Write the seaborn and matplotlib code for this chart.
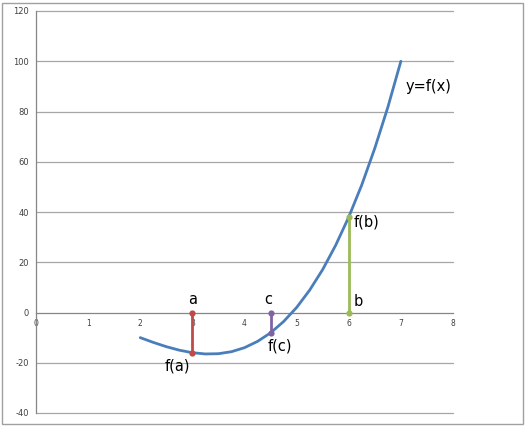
import matplotlib
matplotlib.use("Agg")
import matplotlib.pyplot as plt
import seaborn as sns
import pandas as pd
from matplotlib.patches import Rectangle

# curve y = f(x)
curve_x = [2.0, 2.25, 2.5, 2.75, 3.0, 3.25, 3.5, 3.75, 4.0, 4.25, 4.5,
           4.75, 5.0, 5.25, 5.5, 5.75, 6.0, 6.25, 6.5, 6.75, 7.0]
curve_y = [-10, -11.9, -13.6, -15.0, -16, -16.5, -16.4, -15.6, -14, -11.5, -8.1,
           -3.6, 2, 8.9, 17.1, 26.8, 38, 50.8, 65.4, 81.7, 100]

# vertical segments from the x-axis to the curve
seg_names = ["a", "c", "b"]
seg_x = [3.0, 4.5, 6.0]
seg_fx = [-16, -8.1, 38]
seg_colors = ["#BE4B48", "#8064A2", "#9BBB59"]

y_ticks = [-40, -20, 0, 20, 40, 60, 80, 100, 120]
x_ticks = [0, 1, 2, 3, 4, 5, 6, 7, 8]

sns.set_style("white")
plt.rcParams["font.family"] = ["DejaVu Sans"]
plt.rcParams["axes.unicode_minus"] = False

fig = plt.figure(figsize=(5.25, 4.26), dpi=100)
ax = fig.add_axes([36 / 525, 1 - 413 / 426, (453 - 36) / 525, (413 - 11) / 426])

grid_c = "#A6A6A6"
for yv in y_ticks:
    if yv != 0:
        ax.axhline(yv, color=grid_c, lw=0.9, zorder=0, clip_on=False)

df = pd.DataFrame({"x": curve_x, "y": curve_y})
sns.lineplot(data=df, x="x", y="y", ax=ax, color="#4A7EBB", lw=2, zorder=3,
             estimator=None)

for name, xv, fv, col in zip(seg_names, seg_x, seg_fx, seg_colors):
    seg = pd.DataFrame({"x": [xv, xv], "y": [0, fv]})
    sns.lineplot(data=seg, x="x", y="y", ax=ax, color=col, lw=2,
                 estimator=None, sort=False, marker="o", markersize=4.5,
                 markeredgewidth=0, zorder=4)

ax.set_xlim(0, 8)
ax.set_ylim(-40, 120)
ax.set_xticks(x_ticks)
ax.set_yticks(y_ticks)
ax.set_xlabel("")
ax.set_ylabel("")

for s in ["top", "right"]:
    ax.spines[s].set_visible(False)
ax.spines["bottom"].set_position(("data", 0))
ax.spines["bottom"].set_color("#868686")
ax.spines["left"].set_color("#868686")
ax.spines["bottom"].set_linewidth(0.9)
ax.spines["left"].set_linewidth(0.9)
ax.tick_params(axis="x", direction="out", length=3, width=0.8, color="#868686",
               labelsize=5.5, labelcolor="#404040", pad=2)
ax.tick_params(axis="y", direction="out", length=3, width=0.8, color="#868686",
               labelsize=6, labelcolor="#404040", pad=2)

lab_kw = dict(fontsize=10.5, color="black")
ax.text(3.0, 2.2, "a", ha="center", va="bottom", **lab_kw)
ax.text(2.72, -18.5, "f(a)", ha="center", va="top", **lab_kw)
ax.text(4.45, 2.2, "c", ha="center", va="bottom", **lab_kw)
ax.text(4.45, -10.5, "f(c)", ha="left", va="top", **lab_kw)
ax.text(6.1, 1.5, "b", ha="left", va="bottom", **lab_kw)
ax.text(6.1, 36, "f(b)", ha="left", va="center", **lab_kw)
ax.text(7.1, 90, "y=f(x)", ha="left", va="center", **lab_kw)

fig.patches.append(Rectangle((2 / 525, 2 / 426), 521 / 525, 421 / 426,
                             transform=fig.transFigure, fill=False,
                             edgecolor="#A0A0A0", lw=1))

fig.savefig("out.png", dpi=100)
